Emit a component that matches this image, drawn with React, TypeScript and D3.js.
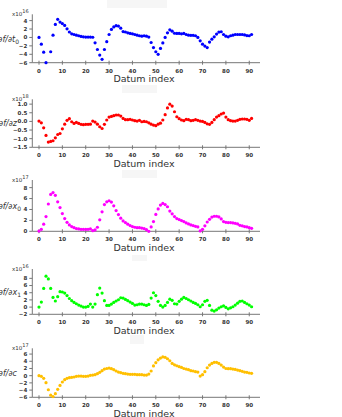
import React from 'react';
import * as d3 from 'd3';

// values, one per datum index (0..91)
const dfdt0 = [0, -1.6, -3.5, -6, null, -3.4, 0.55, 3.1, 4.3, 3.65, 3.3, 2.85, 2.05, 1.3, 0.87, 0.7, 0.55, 0.4, 0.25, 0.15,
  0.1, 0.1, 0.1, 0.05, -1.27, -2.86, -4.2, -5.2, -2.86, -1.0, 0.7, 1.9, 2.5, 2.8, 2.7, 2.2, 1.4, 1.3, 1.1, 0.95,
  0.87, 0.7, 0.55, 0.4, 0.3, 0.4, 0.3, 0.1, -1.2, -2.4, -3.4, -4.0, -2.6, -1.3, 0, 1.1, 1.8, 1.5, 1.0, 0.95,
  0.95, 0.87, 0.95, 0.7, 0.55, 0.5, 0.5, 0.4, 0, -0.8, -1.6, -2.05, -2.4, -1.1, -0.4, 0.15, 0.8, 1.27, 1.35, 0.7,
  0.3, 0.15, 0.4, 0.55, 0.7, 0.7, 0.7, 0.7, 0.6, 0.45, 0.4, 0.7];
const dfdz = [0.02, -0.08, -0.37, -0.81, -1.2, -1.16, -1.12, -0.95, -0.76, -0.7, -0.43, -0.16, 0.06, 0.16, -0.02, -0.12, -0.06, -0.12, -0.17, -0.19,
  -0.17, -0.17, -0.16, 0.02, -0.04, -0.16, -0.31, -0.41, -0.17, 0.08, 0.25, 0.29, 0.33, 0.37, 0.37, 0.31, 0.17, 0.1, 0.1, 0.12,
  0.08, 0.04, 0.02, 0.06, -0.02, 0, -0.02, -0.08, -0.16, -0.21, -0.25, -0.16, -0.1, 0.08, 0.39, 0.78, 1.0, 0.89, 0.56, 0.27,
  0.16, 0.08, 0.04, 0.12, 0.1, 0.04, 0.06, 0.1, 0.06, 0.02, 0, -0.06, -0.14, -0.17, -0.06, 0.1, 0.25, 0.33, 0.43, 0.48,
  0.25, 0.1, 0.04, 0.02, 0.02, 0.06, 0.12, 0.14, 0.14, 0.12, 0.06, 0.17];
const dfdx0 = [0.05, 0.37, 1.3, 2.7, 5.0, 6.75, 7.1, 6.6, 5.4, 4.35, 3.25, 2.33, 1.65, 1.17, 0.86, 0.67, 0.5, 0.43, 0.37, 0.37,
  0.37, 0.37, 0.43, 0.12, 0.25, 0.74, 2.1, 3.56, 4.9, 5.4, 5.6, 5.35, 4.66, 3.8, 3.07, 2.4, 1.9, 1.6, 1.3, 1.04,
  0.86, 0.74, 0.67, 0.67, 0.6, 0.5, 0.3, 0, 0.8, 1.78, 3.1, 4.1, 4.8, 5.1, 4.9, 4.5, 3.7, 3.2, 2.7, 2.33,
  2.15, 1.96, 1.78, 1.53, 1.35, 1.17, 1.04, 0.92, 0.8, 0.06, 0.37, 1.0, 1.7, 2.2, 2.6, 2.76, 2.76, 2.64, 2.27, 1.78,
  1.65, 1.6, 1.6, 1.53, 1.47, 1.35, 1.1, 1.0, 0.86, 0.8, 0.67, 0.55];
const dfdx1 = [0, 1.4, 5.2, 8.6, 7.85, 5.2, 2.7, 1.7, 2.9, 4.3, 4.2, 3.9, 3.2, 2.4, 1.8, 1.3, 0.93, 0.56, 0.28, 0,
  0, 0.19, 0.84, 0, 0.84, 3.46, 5.3, 3.9, 1.8, 0.47, 0.47, 0.84, 1.3, 1.7, 2.05, 2.6, 2.5, 2.15, 1.8, 1.4,
  1.03, 0.56, 0.65, 0.84, 0.84, 0.65, 0.47, 0.75, 2.5, 4.0, 3.2, 1.6, 0.47, 0, 0.47, 1.3, 2.2, 1.9, 0.93, 0.84,
  1.6, 2.2, 2.7, 2.4, 2.05, 1.7, 1.3, 1.03, 0.65, 0.1, 0.65, 1.6, 1.9, 0.47, -0.84, -1.1, -0.75, -0.28, 0.1, 0.37,
  -0.1, -0.47, -0.19, 0.1, 0.56, 1.1, 1.6, 1.7, 1.3, 0.93, 0.56, 0.1];
const dfdc = [0, -0.18, -0.74, -1.94, -3.9, -5.4, -5.8, -5.0, -3.8, -2.7, -1.75, -1.1, -0.74, -0.55, -0.46, -0.37, -0.18, -0.1, -0.1, -0.18,
  -0.18, -0.1, 0.1, 0.18, 0.28, 0.55, 0.92, 1.38, 1.84, 2.0, 2.1, 1.94, 1.66, 1.3, 1.0, 0.83, 0.65, 0.55, 0.46, 0.37,
  0.37, 0.37, 0.28, 0.28, 0.28, 0.18, 0.18, 0.46, 1.3, 2.7, 3.6, 4.4, 4.9, 5.2, 5.1, 4.7, 4.15, 3.4, 3.0, 2.76,
  2.5, 2.3, 2.0, 1.84, 1.66, 1.38, 1.3, 1.1, 1.0, -0.1, 0.28, 1.1, 2.2, 2.95, 3.4, 3.7, 3.7, 3.4, 2.95, 2.4,
  2.0, 1.94, 1.94, 1.84, 1.75, 1.57, 1.38, 1.2, 1.0, 0.92, 0.74, 0.65];

const xTicks = [0, 10, 20, 30, 40, 50, 60, 70, 80, 90];
const exponents = [16, 18, 17, 16, 17];
const colors = ['#0000ff', '#ff0000', '#ff00ff', '#00ff00', '#ffbf00'];
const labelVars = ['t', 'z', 'x', 'x', 'c'];
const labelSubs = ['0', '', '0', '1', ''];
const yTicks = [
  [-6, -4, -2, 0, 2, 4],
  [-1.5, -1, -0.5, 0, 0.5, 1],
  [0, 2, 4, 6, 8],
  [-2, 0, 2, 4, 6, 8],
  [-6, -4, -2, 0, 2, 4, 6],
];
const yDomains = [[-6, 5.5], [-1.5, 1.28], [0, 9.4], [-2, 10.6], [-6, 7.6]];
const series = [dfdt0, dfdz, dfdx0, dfdx1, dfdc];

// pixel layout of each panel: top and bottom of the y axis
const panelTops = [14.3, 99.3, 180, 269, 348.3];
const panelBottoms = [62.7, 147.3, 231.3, 314.3, 397.3];
// where each y-axis title ends on the left
const labelEnds = [19, 17, 21, 21, 17];

const W = 342;
const H = 417;
const axisLeft = 32.3;
const axisRight = 260;

const tickFont = { fontFamily: 'DejaVu Sans', fontSize: 5.5, fontWeight: 'bold' as const, fill: '#333' };

const Panel = ({ i }: { i: number }) => {
  const xScale = d3.scaleLinear().domain([-2.87, 94.6]).range([axisLeft, axisRight]);
  const yScale = d3.scaleLinear().domain(yDomains[i]).range([panelBottoms[i], panelTops[i]]);
  const bottom = panelBottoms[i];
  const middle = (panelTops[i] + bottom) / 2;
  const fmt = i === 1 ? d3.format('.1f') : d3.format('d');

  return (
    <g>
      {/* x axis */}
      <line x1={axisLeft} x2={axisRight} y1={bottom} y2={bottom} stroke="#777" strokeWidth={1} />
      {xTicks.map((t) => (
        <g key={'x' + t} transform={'translate(' + xScale(t) + ',' + bottom + ')'}>
          <line y1={-2} y2={2} stroke="#777" />
          <text y={10} textAnchor="middle" style={tickFont}>{t}</text>
        </g>
      ))}
      {/* y axis */}
      <line x1={axisLeft} x2={axisLeft} y1={panelTops[i]} y2={bottom} stroke="#777" strokeWidth={1} />
      {yTicks[i].map((t) => (
        <g key={'y' + t} transform={'translate(' + axisLeft + ',' + yScale(t) + ')'}>
          <line x1={-3} x2={0} stroke="#777" />
          <text x={-5} dy="0.35em" textAnchor="end" style={tickFont}>{fmt(t)}</text>
        </g>
      ))}
      <text x={12} y={panelTops[i] + 1.5} style={{ ...tickFont, fontWeight: 'normal', fontSize: 5.5 }}>
        x10
        <tspan dy={-3} fontSize={5}>{exponents[i]}</tspan>
      </text>
      {/* axis titles */}
      <text x={144} y={bottom + 19.5} textAnchor="middle"
        style={{ fontFamily: 'DejaVu Sans', fontSize: 9.5, fill: '#333' }}>Datum index</text>
      <text x={labelEnds[i]} y={middle + 3} textAnchor="end"
        style={{ fontFamily: 'DejaVu Sans', fontSize: 8, fontStyle: 'italic', fill: '#333' }}>
        {'\u2202f/\u2202' + labelVars[i]}
        {labelSubs[i] && <tspan dy={2} fontSize={6} fontStyle="normal">{labelSubs[i]}</tspan>}
      </text>
      {/* points */}
      {series[i].map((v, k) => v === null ? null : (
        <circle key={k} cx={xScale(k)} cy={yScale(v)} r={1.6} fill={colors[i]} />
      ))}
    </g>
  );
};

const App = () => {
  return (
    <svg width={W} height={H} style={{ position: 'absolute', left: 0, top: 0, background: '#fff' }}>
      {/* faint boxes seen in the reference */}
      <rect x={107} y={0} width={60} height={8} fill="#f6f6f6" />
      <rect x={122} y={85} width={35} height={8} fill="#f6f6f6" />
      <rect x={122} y={170} width={35} height={8} fill="#f6f6f6" />
      <rect x={132} y={255} width={15} height={6} fill="#f6f6f6" />
      <rect x={130} y={335} width={14} height={9} fill="#f6f6f6" />
      {series.map((_, i) => <Panel key={i} i={i} />)}
    </svg>
  );
};

export default App;
